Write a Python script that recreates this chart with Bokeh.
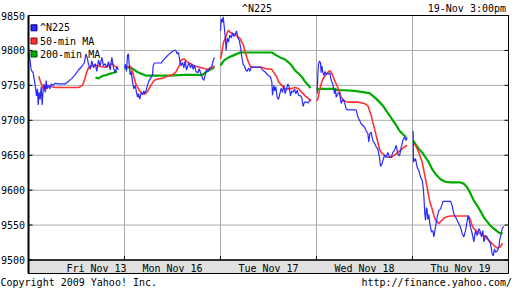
from bokeh.plotting import figure
from bokeh.models import Range1d
from bokeh.embed import file_html
from bokeh.resources import INLINE
from bokeh.core.properties import value

# ---------------- data ----------------
DAY = 288  # time units per trading-day slot on the x axis
days = ["Fri Nov 13", "Mon Nov 16", "Tue Nov 17", "Wed Nov 18", "Thu Nov 19"]
day_label_t = [204, 144, 144, 144, 144]
y_ticks = [9500, 9550, 9600, 9650, 9700, 9750, 9800, 9850]
Y_MIN, Y_MAX = 9500, 9850

# ^N225 (time within day, value), one list per day
n225_t = [
    [0,4,8,14,20,24,27,29,32,35,38,41,44,47,50,53,56,60,64,68,74,80,90,100,110,120,130,140,150,160,
     168,172,176,180,185,190,195,200,205,210,215,220,225,230,235,240,245,250,255,260,265,270],
    [0,3,6,9,12,14,17,20,24,28,32,36,39,42,46,50,54,58,62,66,72,78,84,86,90,100,110,115,120,126,
     132,140,148,154,158,162,166,170,174,178,182,186,190,194,198,202,206,210,214,220,224,228,234,238,
     242,246,250,256,262,266,270],
    [0,2,5,8,11,14,17,20,24,28,32,36,40,44,48,52,56,60,64,68,72,76,80,84,88,92,100,110,120,126,
     132,138,144,150,154,156,160,163,166,170,174,178,182,186,190,194,198,202,206,210,214,218,222,226,
     230,234,240,244,248,252,258,264,270],
    [2,4,6,9,12,14,16,19,22,26,29,32,36,40,44,49,54,57,59,64,69,74,79,84,89,94,105,119,124,129,
     134,144,149,154,157,160,164,169,174,179,184,189,192,196,199,204,209,214,219,224,229,234,239,244,
     249,254,259,264,269,272],
    [2,3,5,7,9,14,19,24,29,32,34,37,39,42,44,46,49,52,54,57,61,64,69,74,79,84,89,92,104,114,
     119,124,134,144,149,154,159,164,167,170,174,179,184,189,194,199,204,207,211,214,219,224,229,234,
     239,242,246,249,254,259,262,266,269,274],
]
n225_v = [
    [9800,9788,9772,9768,9750,9735,9745,9722,9740,9730,9748,9722,9745,9752,9740,9757,9745,9750,9745,9752,
     9750,9753,9752,9752,9752,9756,9760,9765,9772,9777,9783,9795,9790,9780,9773,9785,9775,9781,9770,9786,
     9778,9790,9778,9781,9775,9784,9772,9790,9775,9768,9776,9772],
    [9775,9780,9770,9793,9795,9780,9765,9770,9755,9745,9750,9740,9733,9738,9730,9740,9737,9742,9738,9745,
     9755,9760,9765,9778,9782,9782,9782,9785,9788,9791,9794,9797,9800,9800,9795,9797,9785,9778,9783,9775,
     9785,9772,9778,9782,9775,9780,9773,9779,9770,9768,9774,9768,9760,9757,9765,9772,9770,9775,9777,9785,
     9790],
    [9828,9845,9840,9848,9835,9820,9800,9818,9812,9822,9818,9825,9820,9823,9828,9818,9815,9805,9790,9780,
     9778,9772,9770,9775,9770,9776,9776,9776,9776,9772,9770,9767,9764,9762,9755,9736,9750,9742,9748,9733,
     9730,9738,9746,9740,9750,9738,9745,9752,9748,9735,9742,9740,9745,9738,9743,9736,9735,9732,9720,9726,
     9726,9725,9730],
    [9738,9765,9780,9785,9782,9768,9778,9769,9764,9770,9766,9767,9766,9768,9757,9752,9738,9745,9733,9738,
     9740,9724,9730,9726,9716,9715,9715,9715,9705,9700,9695,9690,9685,9681,9669,9681,9683,9671,9667,9662,
     9659,9647,9634,9637,9642,9650,9647,9654,9647,9647,9654,9657,9664,9652,9649,9661,9671,9676,9671,9676],
    [9685,9640,9645,9642,9645,9633,9628,9619,9614,9604,9592,9566,9557,9575,9572,9558,9565,9552,9547,9540,
     9542,9533,9547,9561,9571,9573,9580,9584,9584,9584,9578,9566,9557,9547,9538,9533,9542,9556,9564,9557,
     9547,9538,9526,9542,9535,9545,9540,9533,9542,9526,9535,9533,9528,9523,9509,9506,9516,9511,9513,9518,
     9530,9537,9545,9548],
]

# 50-min moving average
ma50_t = [
    [31,36,45,51,55,62,70,80,100,120,150,162,168,174,180,190,200,215,230,240,250,260,270],
    [0,19,24,34,44,54,59,69,79,89,99,114,129,144,154,164,169,179,189,199,209,224,239,249,259,270],
    [0,4,9,14,19,24,29,39,49,59,69,74,84,89,94,114,124,134,154,159,169,174,184,194,209,224,234,244,254,264,272],
    [0,4,9,14,19,29,39,44,49,54,59,64,69,74,84,94,124,144,154,159,164,169,174,179,184,189,194,204,214,224,
     234,244,254,264,272],
    [2,9,14,19,24,29,34,39,44,49,54,59,64,69,74,79,84,89,94,104,114,164,169,174,179,184,189,194,204,214,
     224,234,244,254,264,270],
]
ma50_v = [
    [9763,9755,9745,9743,9748,9750,9748,9747,9747,9747,9747,9750,9758,9768,9775,9778,9779,9777,9776,9778,
     9781,9777,9776],
    [9776,9777,9769,9752,9743,9738,9737,9741,9750,9757,9759,9760,9763,9765,9769,9778,9786,9788,9783,9781,
     9778,9776,9774,9773,9774,9778],
    [9788,9797,9812,9817,9824,9829,9826,9824,9821,9817,9807,9797,9783,9778,9776,9776,9776,9774,9773,9769,
     9762,9755,9750,9745,9745,9747,9745,9740,9735,9731,9728],
    [9728,9730,9743,9752,9759,9766,9771,9769,9764,9757,9752,9747,9740,9733,9728,9726,9726,9724,9721,9714,
     9707,9697,9688,9678,9669,9659,9654,9650,9647,9647,9650,9654,9658,9662,9664],
    [9666,9664,9659,9654,9647,9640,9628,9616,9604,9590,9580,9573,9564,9557,9555,9552,9555,9557,9560,9562,
     9563,9563,9562,9557,9549,9545,9543,9541,9537,9535,9530,9526,9521,9517,9519,9524],
]

# 200-min moving average
ma200_t = [
    [201,210,220,240,255,266],
    [0,9,24,39,54,64,100,134,180,234,244,270],
    [0,9,24,44,59,74,154,164,179,194,204,214,224,234,244,254,264,270],
    [0,14,34,54,64,84,114,144,159,169,179,189,199,209,219,229,239,249,259,269],
    [2,9,19,29,39,49,59,69,79,89,99,114,144,154,164,174,184,194,204,214,224,234,244,254,264,270],
]
ma200_v = [
    [9761,9760,9763,9766,9768,9770],
    [9774,9776,9774,9769,9766,9764,9764,9764,9765,9765,9769,9776],
    [9778,9785,9790,9794,9797,9797,9797,9794,9790,9787,9783,9778,9771,9767,9762,9755,9750,9746],
    [9744,9745,9745,9745,9743,9743,9742,9740,9739,9735,9731,9726,9721,9714,9707,9700,9693,9685,9680,9676],
    [9671,9666,9659,9654,9647,9640,9630,9623,9618,9614,9612,9611,9611,9609,9604,9595,9585,9578,9570,9561,
     9555,9549,9545,9541,9538,9539],
]

series_names = ["^N225", "50-min MA", "200-min MA"]
series_colors = ["#2a2aff", "#ff3333", "#00aa00"]
series_dark = ["#00007a", "#8a0000", "#005500"]
series_widths = [1.2, 1.6, 2.2]

title_text = "^N225"
stamp_text = "19-Nov 3:00pm"
copyright_text = "Copyright 2009 Yahoo! Inc."
url_text = "http://finance.yahoo.com/"

FONT = "DejaVu Sans Mono"

# ---------------- layout (pixels of the 512x288 page) ----------------
W, H = 512, 288
PL, PR, PT, PB, SB = 28, 508, 15, 259.5, 273   # plot left/right/top, 9500 line, strip bottom
X_END = len(days) * DAY
sx = (PR - PL) / X_END
sy = (PB - PT) / (Y_MAX - Y_MIN)


def px2x(px):
    return (px - PL) / sx


def py2y(py):
    return Y_MAX - (py - PT) / sy


def build(ts, vs):
    xs, ys = [], []
    for d, (t, v) in enumerate(zip(ts, vs)):
        if not t:
            continue
        if xs:
            xs.append(float("nan"))
            ys.append(float("nan"))
        xs += [d * DAY + ti for ti in t]
        ys += list(v)
    return xs, ys


p = figure(width=W, height=H,
           x_range=Range1d(px2x(0), px2x(W)), y_range=Range1d(py2y(H), py2y(0)),
           x_axis_type=None, y_axis_type=None, min_border=0,
           output_backend="svg", toolbar_location=None)
p.background_fill_color = "white"
p.border_fill_color = "white"
p.outline_line_color = None
p.grid.visible = False

y_strip = py2y(SB)
bounds = [d * DAY for d in range(1, len(days))]
tick_len = 4 / sx
tick_len_y = 4 / sy

# date strip
p.quad(left=[0], right=[X_END], bottom=[y_strip], top=[Y_MIN], fill_color="#e0e0e0", line_color=None)

# grid
p.segment(x0=[0] * len(y_ticks), x1=[X_END] * len(y_ticks), y0=y_ticks, y1=y_ticks,
          line_color="#aaaaaa", line_width=1)
p.segment(x0=bounds, x1=bounds, y0=[Y_MIN] * len(bounds), y1=[Y_MAX] * len(bounds),
          line_color="#aaaaaa", line_width=1)

# legend background
p.quad(left=[0], right=[px2x(101)], bottom=[py2y(60)], top=[Y_MAX], fill_color="white", line_color=None)

# series
for (ts, vs), col, w in zip([(ma200_t, ma200_v), (ma50_t, ma50_v), (n225_t, n225_v)],
                            [series_colors[2], series_colors[1], series_colors[0]],
                            [series_widths[2], series_widths[1], series_widths[0]]):
    xs, ys = build(ts, vs)
    p.line(xs, ys, line_color=col, line_width=w)

# legend
leg_rows = [py2y(27.3), py2y(40.5), py2y(53.5)]
p.rect(x=[px2x(33.5)] * 3, y=leg_rows, width=6, height=6, width_units="screen", height_units="screen",
       fill_color=series_colors, line_color=series_dark, line_width=1)
p.text(x=[px2x(39.5)] * 3, y=leg_rows, text=series_names, text_font=value(FONT), text_font_size="10px",
       text_color="black", text_align="left", text_baseline="middle")

# frame, axis lines and ticks
p.quad(left=[0], right=[X_END], bottom=[y_strip], top=[Y_MAX], fill_color=None, line_color="black", line_width=1)
p.segment(x0=[0], x1=[0], y0=[y_strip], y1=[Y_MAX], line_color="black", line_width=2)
p.segment(x0=[0], x1=[X_END], y0=[Y_MIN], y1=[Y_MIN], line_color="black", line_width=1.3)
p.segment(x0=[X_END - tick_len] * len(y_ticks), x1=[X_END] * len(y_ticks), y0=y_ticks, y1=y_ticks,
          line_color="black", line_width=1)
p.segment(x0=[0] * len(y_ticks), x1=[tick_len] * len(y_ticks), y0=y_ticks, y1=y_ticks,
          line_color="black", line_width=1)
p.segment(x0=bounds, x1=bounds, y0=[Y_MIN] * len(bounds), y1=[Y_MIN + tick_len_y] * len(bounds),
          line_color="black", line_width=1)

# y tick labels
p.text(x=[px2x(24.5)] * len(y_ticks), y=y_ticks, text=[str(t) for t in y_ticks],
       text_font=value(FONT), text_font_size="10px", text_color="black",
       text_align="right", text_baseline="middle")

# day labels
p.text(x=[d * DAY + lt for d, lt in enumerate(day_label_t)], y=[py2y(267.5)] * len(days), text=days,
       text_font=value(FONT), text_font_size="10px", text_color="black",
       text_align="center", text_baseline="middle")

# header / footer
p.text(x=[px2x(256.5)], y=[py2y(7.5)], text=[title_text], text_font=value(FONT), text_font_size="10px",
       text_color="black", text_align="center", text_baseline="middle")
p.text(x=[px2x(505.5)], y=[py2y(7.5)], text=[stamp_text], text_font=value(FONT), text_font_size="10px",
       text_color="black", text_align="right", text_baseline="middle")
p.text(x=[px2x(0)], y=[py2y(281.5)], text=[copyright_text], text_font=value(FONT), text_font_size="10px",
       text_color="black", text_align="left", text_baseline="middle")
p.text(x=[px2x(511.5)], y=[py2y(281.5)], text=[url_text], text_font=value(FONT), text_font_size="10px",
       text_color="black", text_align="right", text_baseline="middle")

open("out.html", "w").write(file_html(p, INLINE))
